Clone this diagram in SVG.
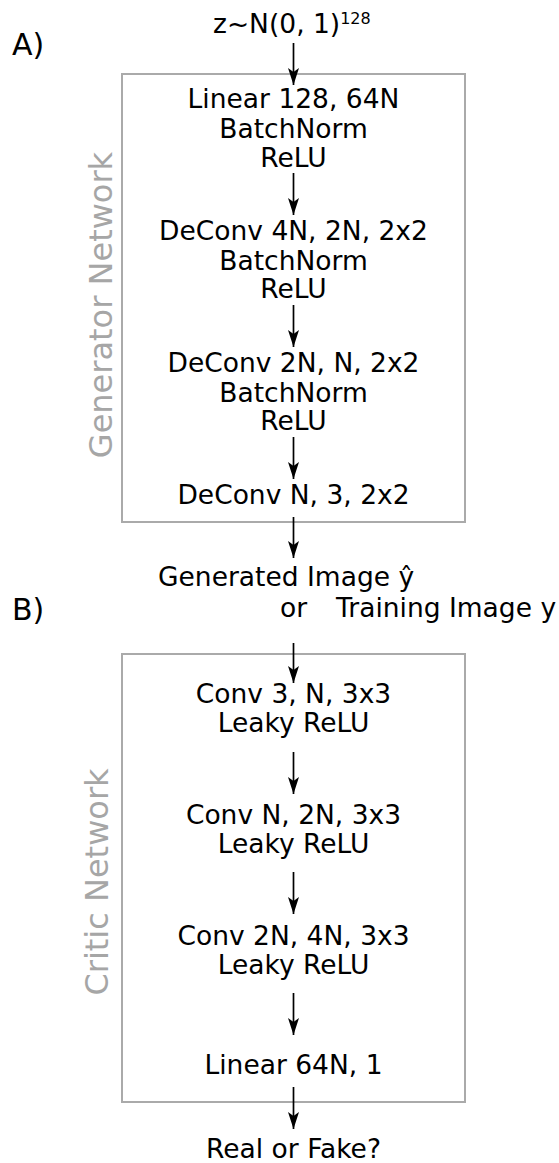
<svg xmlns="http://www.w3.org/2000/svg" width="559" height="1163" viewBox="0 0 559 1163">
<defs>
<marker id="ah" markerUnits="userSpaceOnUse" markerWidth="20" markerHeight="14" viewBox="-18 -7 20 14" refX="0" refY="0" orient="auto">
<path d="M0,0 L-17,-5.5 L-13,0 L-17,5.5 Z" fill="#000"/>
</marker>
<style>
text{font-family:"DejaVu Sans","Liberation Sans",sans-serif;fill:#000}
.t{font-size:26.5px;text-anchor:middle}
.s{font-size:26.5px}
.side{font-size:32px;fill:#a6a6a6;text-anchor:middle}
.lab{font-size:30px}
.box{fill:#fff;stroke:#aaaaaa;stroke-width:2}
.c line{stroke:#000;stroke-width:1.7;marker-end:url(#ah)}
</style>
</defs>
<rect width="559" height="1163" fill="#fff"/>
<text class="lab" x="12" y="55">A)</text>
<text class="lab" x="12" y="620">B)</text>
<g id="gen-box"><rect class="box" x="122" y="74" width="343" height="448"/>
<text class="side" transform="translate(112,305) rotate(-90)">Generator Network</text></g>
<g id="critic-box"><rect class="box" x="122" y="654" width="343" height="448"/>
<text class="side" transform="translate(108,882) rotate(-90)">Critic Network</text></g>
<g id="input"><text class="s" x="213" y="33">z~N(0, 1)<tspan font-size="16" dy="-9">128</tspan></text></g>
<g id="g1"><text class="t" x="293.5" y="108">Linear 128, 64N</text><text class="t" x="293.5" y="138">BatchNorm</text><text class="t" x="293.5" y="167">ReLU</text></g>
<g id="g2"><text class="t" x="293.5" y="240">DeConv 4N, 2N, 2x2</text><text class="t" x="293.5" y="270">BatchNorm</text><text class="t" x="293.5" y="298">ReLU</text></g>
<g id="g3"><text class="t" x="293.5" y="372">DeConv 2N, N, 2x2</text><text class="t" x="293.5" y="402">BatchNorm</text><text class="t" x="293.5" y="430">ReLU</text></g>
<g id="g4"><text class="t" x="293.5" y="504">DeConv N, 3, 2x2</text></g>
<g id="image"><text class="s" x="158" y="586">Generated Image ŷ</text><text class="s" y="617"><tspan x="280">or</tspan><tspan x="336">Training Image y</tspan></text></g>
<g id="c1"><text class="t" x="293.5" y="703">Conv 3, N, 3x3</text><text class="t" x="293.5" y="732">Leaky ReLU</text></g>
<g id="c2"><text class="t" x="293.5" y="824">Conv N, 2N, 3x3</text><text class="t" x="293.5" y="853">Leaky ReLU</text></g>
<g id="c3"><text class="t" x="293.5" y="945">Conv 2N, 4N, 3x3</text><text class="t" x="293.5" y="974">Leaky ReLU</text></g>
<g id="c4"><text class="t" x="293.5" y="1074">Linear 64N, 1</text></g>
<g id="output"><text class="t" x="293.5" y="1158">Real or Fake?</text></g>
<g id="connectors" class="c">
<line x1="293.5" y1="43" x2="293.5" y2="85"/>
<line x1="293.5" y1="173" x2="293.5" y2="215"/>
<line x1="293.5" y1="305" x2="293.5" y2="347"/>
<line x1="293.5" y1="437" x2="293.5" y2="479"/>
<line x1="293.5" y1="517" x2="293.5" y2="558"/>
<line x1="293.5" y1="643" x2="293.5" y2="683"/>
<line x1="293.5" y1="752" x2="293.5" y2="794"/>
<line x1="293.5" y1="872" x2="293.5" y2="914"/>
<line x1="293.5" y1="993" x2="293.5" y2="1035"/>
<line x1="293.5" y1="1087" x2="293.5" y2="1129"/>
</g>
</svg>
